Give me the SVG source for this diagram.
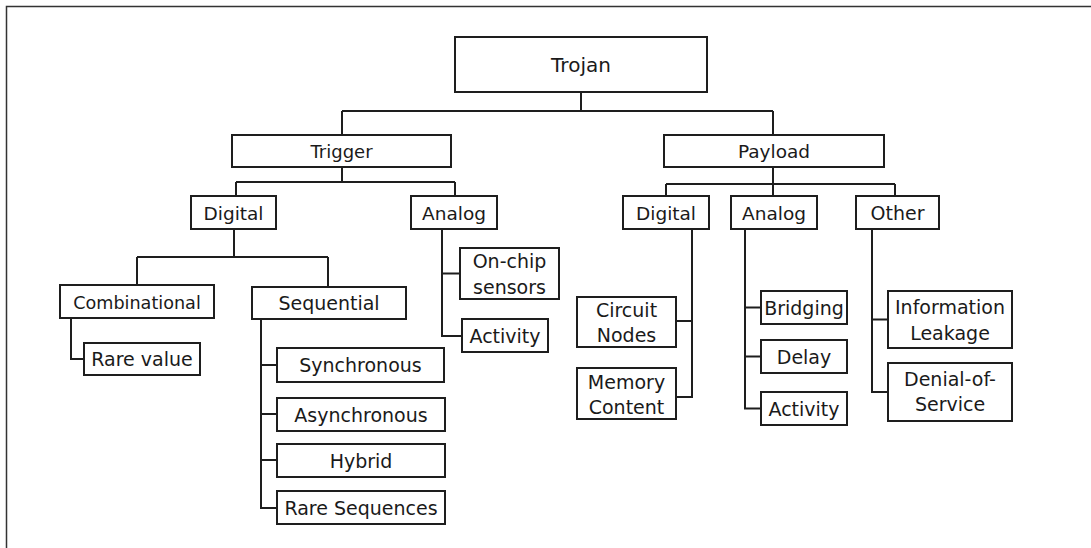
<svg xmlns="http://www.w3.org/2000/svg" width="1091" height="548" viewBox="0 0 1091 548">
  <style>
    .box { fill: #ffffff; stroke: #1e1e1e; stroke-width: 2; }
    .lbl { font-family: "DejaVu Sans", "Liberation Sans", sans-serif; font-size: 19px; fill: #1a1a1a; text-anchor: middle; }
    .wire { fill: none; stroke: #1e1e1e; stroke-width: 2; }
    .frame { fill: none; stroke: #333333; stroke-width: 1.5; }
  </style>

  <rect width="1091" height="548" fill="#ffffff"/>
  <!-- outer frame: only the top and left edges fall inside the page -->
  <path class="frame" d="M6.5 548 V6.5 H1091"/>

  <g id="connectors">
    <!-- Trojan to Trigger / Payload -->
    <path class="wire" d="M581 92 V111 M342 111 H773 M342 111 V135 M773 111 V135"/>
    <!-- Trigger to Digital / Analog -->
    <path class="wire" d="M342 167 V182 M236 182 H455 M236 182 V196 M455 182 V196"/>
    <!-- Payload to Digital / Analog / Other -->
    <path class="wire" d="M773 167 V196 M666 184 H895 M666 184 V196 M895 184 V196"/>
    <!-- Trigger Digital to Combinational / Sequential -->
    <path class="wire" d="M234 229 V257 M137 257 H328 M137 257 V285 M328 257 V287"/>
    <!-- Combinational to Rare value -->
    <path class="wire" d="M71 318 V359 H84"/>
    <!-- Sequential children -->
    <path class="wire" d="M261 319 V508 H277 M261 365 H277 M261 414 H277 M261 460 H277"/>
    <!-- Trigger Analog children -->
    <path class="wire" d="M442 229 V336 H462 M442 273.5 H460"/>
    <!-- Payload Digital children -->
    <path class="wire" d="M692 229 V397 H676 M676 321 H692"/>
    <!-- Payload Analog children -->
    <path class="wire" d="M745 229 V408.5 H761 M745 307.5 H761 M745 356.5 H761"/>
    <!-- Payload Other children -->
    <path class="wire" d="M872 229 V392 H888 M872 319.5 H888"/>
  </g>

  <g id="trojan">
    <rect class="box" x="455" y="37" width="252" height="55"/>
    <text class="lbl" x="581" y="72" style="font-size:20px">Trojan</text>
  </g>

  <g id="trigger">
    <rect class="box" x="232" y="135" width="219" height="32"/>
    <text class="lbl" x="341.5" y="158" style="font-size:18px">Trigger</text>
  </g>
  <g id="payload">
    <rect class="box" x="664" y="135" width="220" height="32"/>
    <text class="lbl" x="774" y="158" style="font-size:18.5px">Payload</text>
  </g>

  <g id="trigger-digital">
    <rect class="box" x="191" y="196" width="85" height="33"/>
    <text class="lbl" x="233.5" y="219.5" style="font-size:18.5px">Digital</text>
  </g>
  <g id="trigger-analog">
    <rect class="box" x="411" y="196" width="86" height="33"/>
    <text class="lbl" x="454" y="219.5" style="font-size:18.5px">Analog</text>
  </g>
  <g id="payload-digital">
    <rect class="box" x="623" y="196" width="86" height="33"/>
    <text class="lbl" x="666" y="219.5" style="font-size:18.5px">Digital</text>
  </g>
  <g id="payload-analog">
    <rect class="box" x="731" y="196" width="86" height="33"/>
    <text class="lbl" x="774" y="219.5" style="font-size:18.5px">Analog</text>
  </g>
  <g id="payload-other">
    <rect class="box" x="856" y="196" width="83" height="33"/>
    <text class="lbl" x="897.5" y="219.5">Other</text>
  </g>

  <g id="combinational">
    <rect class="box" x="60" y="285" width="154" height="33"/>
    <text class="lbl" x="137" y="308.5" style="font-size:17.6px">Combinational</text>
  </g>
  <g id="sequential">
    <rect class="box" x="252" y="287" width="154" height="32"/>
    <text class="lbl" x="329" y="310">Sequential</text>
  </g>
  <g id="rare-value">
    <rect class="box" x="84" y="343" width="116" height="32"/>
    <text class="lbl" x="142" y="366">Rare value</text>
  </g>

  <g id="synchronous">
    <rect class="box" x="277" y="348" width="167" height="34"/>
    <text class="lbl" x="360.5" y="372">Synchronous</text>
  </g>
  <g id="asynchronous">
    <rect class="box" x="277" y="398" width="168" height="33"/>
    <text class="lbl" x="361" y="421.5">Asynchronous</text>
  </g>
  <g id="hybrid">
    <rect class="box" x="277" y="444" width="168" height="33"/>
    <text class="lbl" x="361" y="467.5">Hybrid</text>
  </g>
  <g id="rare-sequences">
    <rect class="box" x="277" y="491" width="168" height="33"/>
    <text class="lbl" x="361" y="514.5">Rare Sequences</text>
  </g>

  <g id="on-chip-sensors">
    <rect class="box" x="460" y="248" width="99" height="51"/>
    <text class="lbl" x="509.5" y="267.5">On-chip</text>
    <text class="lbl" x="509.5" y="293.5">sensors</text>
  </g>
  <g id="trigger-activity">
    <rect class="box" x="462" y="319" width="86" height="33"/>
    <text class="lbl" x="505" y="342.5">Activity</text>
  </g>

  <g id="circuit-nodes">
    <rect class="box" x="577" y="297" width="99" height="50"/>
    <text class="lbl" x="626.5" y="316.5">Circuit</text>
    <text class="lbl" x="626.5" y="342">Nodes</text>
  </g>
  <g id="memory-content">
    <rect class="box" x="577" y="368" width="99" height="51"/>
    <text class="lbl" x="626.5" y="388.5">Memory</text>
    <text class="lbl" x="626.5" y="414">Content</text>
  </g>

  <g id="bridging">
    <rect class="box" x="761" y="291" width="86" height="33"/>
    <text class="lbl" x="804" y="314.5">Bridging</text>
  </g>
  <g id="delay">
    <rect class="box" x="761" y="340" width="86" height="33"/>
    <text class="lbl" x="804" y="363.5">Delay</text>
  </g>
  <g id="payload-activity">
    <rect class="box" x="761" y="392" width="86" height="33"/>
    <text class="lbl" x="804" y="415.5">Activity</text>
  </g>

  <g id="information-leakage">
    <rect class="box" x="888" y="291" width="124" height="57"/>
    <text class="lbl" x="950" y="314">Information</text>
    <text class="lbl" x="950" y="339.5">Leakage</text>
  </g>
  <g id="denial-of-service">
    <rect class="box" x="888" y="363" width="124" height="58"/>
    <text class="lbl" x="950" y="386">Denial-of-</text>
    <text class="lbl" x="950" y="411">Service</text>
  </g>
</svg>
